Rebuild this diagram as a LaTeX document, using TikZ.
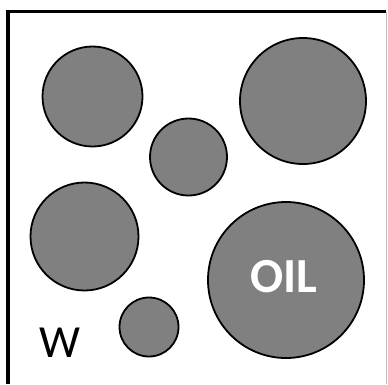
\documentclass[tikz,border=0pt]{standalone}
\usepackage{fontspec}
\setmainfont{Carlito}
\usepackage{tikz}
\definecolor{oilgray}{HTML}{808080}
\newcommand{\drop}[3] % {x}{y}{radius}
{
	\draw [line width=1.8pt, fill=oilgray] (#1,#2) circle [radius=#3];
}

\begin{document}
\begin{tikzpicture}[x=1pt, y=-1pt]
	\useasboundingbox (0,0) rectangle (388,384);
	
	% frame (open at the bottom)
	\draw [line width=3.5pt] (8,384) -- (8,11.5) -- (386,11.5);
	\draw [gray!50, line width=1pt] (386.5,11.5) -- (386.5,384);
	
	\drop{92.5}{96.5}{50}
	\drop{303}{101}{63}
	\drop{188.5}{157}{38.5}
	\drop{84.5}{236.5}{54}
	\drop{286}{280}{78}
	\drop{149}{327}{29.5}
	
	\node (oil) [text=white, font=\fontsize{49}{49}\selectfont\bfseries] at (284,277) {OIL};
	\node (water) [font=\fontsize{46}{46}\selectfont] at (60,343) {W};
	
\end{tikzpicture}
\end{document}
